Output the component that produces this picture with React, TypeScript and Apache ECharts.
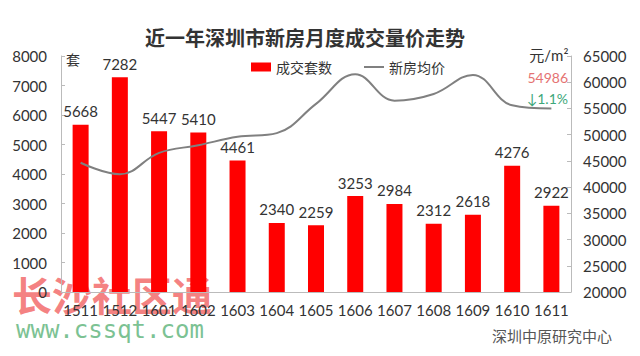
import React, { useEffect, useRef } from "react";
import * as echarts from "echarts";

const categories = ["1511", "1512", "1601", "1602", "1603", "1604", "1605", "1606", "1607", "1608", "1609", "1610", "1611"];
const deals = [5668, 7282, 5447, 5410, 4461, 2340, 2259, 3253, 2984, 2312, 2618, 4276, 2922];
const prices = [44640, 42440, 46530, 47980, 49600, 50300, 55870, 61540, 56490, 57760, 61400, 55598, 54986];
const leftTicks = { min: 0, max: 8000, interval: 1000 };
const rightTicks = { min: 20000, max: 65000, interval: 5000 };

const FONT = "Lato, 'Noto Sans CJK SC', sans-serif";
const CJK = "'Noto Sans CJK SC', sans-serif";
const plain = (v: number) => String(v);

export default function App() {
  const ref = useRef<HTMLDivElement>(null);
  useEffect(() => {
    if (!ref.current) return;
    const chart = echarts.init(ref.current, null, { renderer: "svg" });
    chart.setOption({
      animation: false,
      backgroundColor: "#ffffff",
      title: {
        text: "近一年深圳市新房月度成交量价走势",
        left: 300,
        textAlign: "center",
        top: 22,
        textStyle: { fontFamily: CJK, fontSize: 20, fontWeight: "bold", color: "#333" },
      },
      legend: {
        left: 246,
        top: 55,
        itemWidth: 20,
        itemHeight: 9,
        itemGap: 32,
        symbolKeepAspect: true,
        textStyle: { fontFamily: CJK, fontSize: 14, color: "#333" },
        data: [
          { name: "成交套数", icon: "rect" },
          { name: "新房均价", icon: "path://M0,0H20V2H0Z" },
        ],
      },
      grid: { left: 61, right: 69, top: 56, bottom: 64, containLabel: false },
      xAxis: {
        type: "category",
        data: categories,
        axisLine: { lineStyle: { color: "#bbb" } },
        axisTick: { inside: true, length: 4, lineStyle: { color: "#bbb" } },
        axisLabel: { fontFamily: FONT, fontSize: 15, color: "#333", margin: 10, interval: 0 },
      },
      yAxis: [
        {
          type: "value",
          ...leftTicks,
          splitLine: { show: false },
          axisLine: { show: true, lineStyle: { color: "#bbb" } },
          axisTick: { show: true, inside: true, length: 4, lineStyle: { color: "#bbb" } },
          axisLabel: { fontFamily: FONT, fontSize: 15, color: "#333", margin: 14, formatter: plain },
        },
        {
          type: "value",
          ...rightTicks,
          splitLine: { show: false },
          axisLine: { show: true, lineStyle: { color: "#bbb" } },
          axisTick: { show: true, inside: true, length: 4, lineStyle: { color: "#bbb" } },
          axisLabel: { fontFamily: FONT, fontSize: 15, color: "#333", margin: 12, formatter: plain },
        },
      ],
      series: [
        {
          name: "成交套数",
          type: "bar",
          data: deals,
          barWidth: 16,
          itemStyle: { color: "#ff0000" },
          label: {
            show: true,
            position: "top",
            distance: 6,
            fontFamily: FONT,
            fontSize: 15,
            color: "#333",
          },
        },
        {
          name: "新房均价",
          type: "line",
          yAxisIndex: 1,
          data: prices,
          smooth: 0.4,
          symbol: "none",
          lineStyle: { color: "#808080", width: 2 },
          itemStyle: { color: "#808080" },
        },
      ],
      graphic: [
        { type: "text", left: 66, top: 52, style: { text: "套", fontFamily: CJK, fontSize: 14, fill: "#333" } },
        { type: "text", right: 72, top: 47, style: { text: "元/m²", fontFamily: FONT, fontSize: 15, fill: "#333" } },
        { type: "text", right: 72, top: 70, style: { text: "54986", fontFamily: FONT, fontSize: 14, fill: "#e57373" } },
        { type: "text", right: 72, top: 91, style: { text: "↓1.1%", fontFamily: FONT, fontSize: 14, fill: "#3da77a" } },
        { type: "text", left: 12, top: 274, style: { text: "长沙社区通", fontFamily: CJK, fontSize: 40, fontWeight: "bold", fill: "rgba(242,95,95,0.78)" } },
        { type: "text", left: 16, top: 318, style: { text: "www.cssqt.com", fontFamily: "'DejaVu Sans Mono', monospace", fontSize: 24, fill: "#7cc293" } },
        { type: "text", right: 28, top: 328, style: { text: "深圳中原研究中心", fontFamily: CJK, fontSize: 15, fill: "#555" } },
      ],
    });
    return () => chart.dispose();
  }, []);
  return <div ref={ref} style={{ width: 640, height: 356, position: "absolute", left: 0, top: 0 }} />;
}
